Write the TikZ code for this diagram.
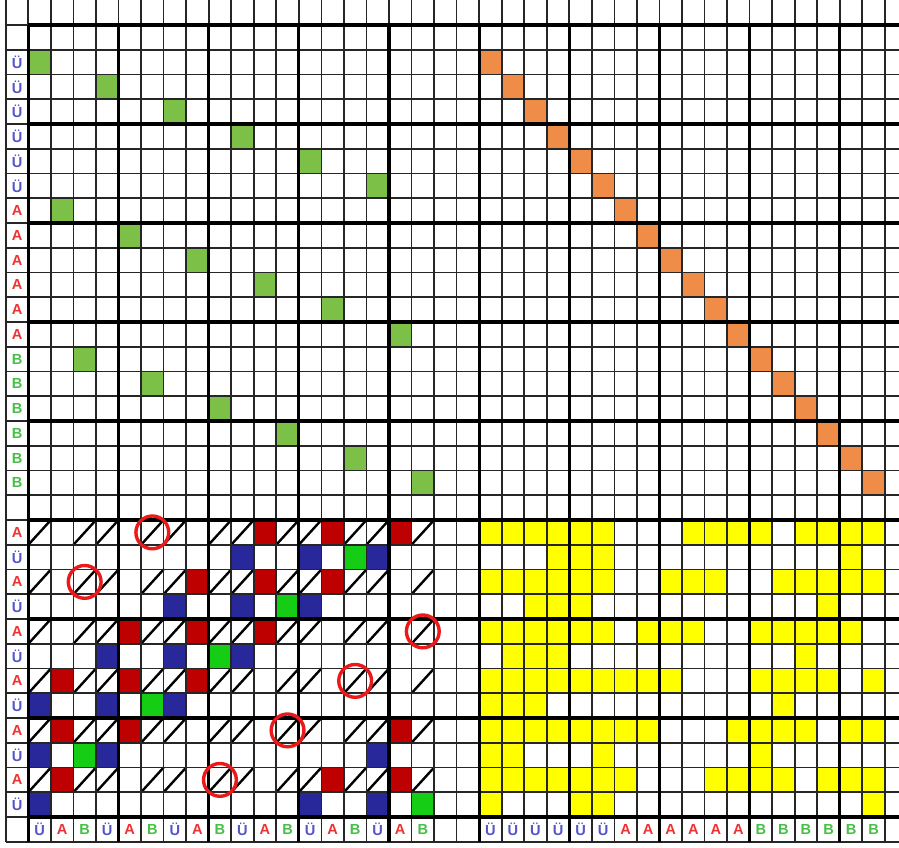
\documentclass[tikz,border=0pt]{standalone}
\usepackage{fontspec}
\newfontfamily\labfont{Liberation Sans}
\definecolor{lgreen}{RGB}{124,192,72}
\definecolor{orng}{RGB}{238,140,72}
\definecolor{dred}{RGB}{190,0,0}
\definecolor{dblue}{RGB}{40,40,155}
\definecolor{bgreen}{RGB}{20,205,20}
\definecolor{yel}{RGB}{255,255,0}
\definecolor{ringred}{RGB}{235,25,25}
\definecolor{cU}{RGB}{85,85,200}
\definecolor{cA}{RGB}{238,50,50}
\definecolor{cB}{RGB}{70,192,70}
\begin{document}
\begin{tikzpicture}[x=11.27pt,y=-12.375pt,
  lab/.style={font=\labfont\bfseries\fontsize{7.3}{8}\selectfont, inner sep=0pt},
  thinline/.style={line width=0.85pt, black!85},
  thickline/.style={line width=1.6pt, black},
  slash/.style={line width=1.2pt, black},
  ring/.style={line width=1.7pt, ringred}]
\useasboundingbox (-0.2573,-0.0101) rectangle (39.627,34.212);
\clip (-0.2573,-0.0101) rectangle (39.627,34.212);
% light green cells (upper left)
\foreach \c/\r in {1/2,4/3,7/4,10/5,13/6,16/7,2/8,5/9,8/10,11/11,14/12,17/13,3/14,6/15,9/16,12/17,15/18,18/19}
  \fill[lgreen] (\c,\r) rectangle ++(1,1);
% orange diagonal (upper right)
\foreach \i in {0,...,17}
  \fill[orng] ({21+\i},{2+\i}) rectangle ++(1,1);
% dark red cells
\foreach \r/\cs in {21/{11,14,17},23/{8,11,14},25/{5,8,11},27/{2,5,8},29/{2,5,17},31/{2,14,17}}
  {\foreach \c in \cs {\fill[dred] (\c,\r) rectangle ++(1,1);}}
% dark blue cells
\foreach \r/\cs in {22/{10,13,16},24/{7,10,13},26/{4,7,10},28/{1,4,7},30/{1,4,16},32/{1,13,16}}
  {\foreach \c in \cs {\fill[dblue] (\c,\r) rectangle ++(1,1);}}
% bright green cells
\foreach \c/\r in {15/22,12/24,9/26,6/28,3/30,18/32}
  \fill[bgreen] (\c,\r) rectangle ++(1,1);
% yellow cells (lower right)
\foreach \r/\cs in {
  21/{21,22,23,24,25,26,30,31,32,33,35,36,37,38},
  22/{24,25,26,37},
  23/{21,22,23,24,25,26,29,30,31,34,35,36,37,38},
  24/{23,24,25,36},
  25/{21,22,23,24,25,26,28,29,30,33,34,35,36,37},
  26/{22,23,24,35},
  27/{21,22,23,24,25,26,27,28,29,33,34,35,36,38},
  28/{21,22,23,34},
  29/{21,22,23,24,25,26,27,28,32,33,34,35,37,38},
  30/{21,22,26,33},
  31/{21,22,23,24,25,26,27,31,32,33,34,36,37,38},
  32/{21,25,26,38}}
  {\foreach \c in \cs {\fill[yel] (\c,\r) rectangle ++(1,1);}}
% slashes
\foreach \r in {21,23,...,31}
  {\foreach \c in {1,3,4,6,7,9,10,12,13,15,16,18}
    {\draw[slash] ({\c},{\r+1}) -- ({\c+1},{\r});}}
% thin grid
\foreach \k in {0,...,39}
  \draw[thinline] (\k,-0.2) -- (\k,34);
\foreach \r in {1,...,34}
  \draw[thinline] (0,\r) -- (39.8,\r);
% thick grid
\foreach \k in {1,5,...,37}
  \draw[thickline] (\k,1) -- (\k,34);
\foreach \r in {1,5,...,33}
  \draw[thickline] (1,\r) -- (39.8,\r);
% red rings
\foreach \c/\r in {6/21,3/23,18/25,15/27,12/29,9/31}
  \draw[ring] ({\c+0.5},{\r+0.5}) circle [radius=8.2pt];
% row labels
\foreach \r in {2,...,7}
  \node[lab,text=cU] (lu\r) at (0.5,{\r+0.5}) {Ü};
\foreach \r in {8,...,13}
  \node[lab,text=cA] (la\r) at (0.5,{\r+0.5}) {A};
\foreach \r in {14,...,19}
  \node[lab,text=cB] (lb\r) at (0.5,{\r+0.5}) {B};
\foreach \r in {21,23,...,31}
  \node[lab,text=cA] (ma\r) at (0.5,{\r+0.5}) {A};
\foreach \r in {22,24,...,32}
  \node[lab,text=cU] (mu\r) at (0.5,{\r+0.5}) {Ü};
% column labels
\foreach \c in {1,4,...,16}
  \node[lab,text=cU] (bu\c) at ({\c+0.5},33.5) {Ü};
\foreach \c in {2,5,...,17}
  \node[lab,text=cA] (ba\c) at ({\c+0.5},33.5) {A};
\foreach \c in {3,6,...,18}
  \node[lab,text=cB] (bb\c) at ({\c+0.5},33.5) {B};
\foreach \c in {21,...,26}
  \node[lab,text=cU] (ru\c) at ({\c+0.5},33.5) {Ü};
\foreach \c in {27,...,32}
  \node[lab,text=cA] (ra\c) at ({\c+0.5},33.5) {A};
\foreach \c in {33,...,38}
  \node[lab,text=cB] (rb\c) at ({\c+0.5},33.5) {B};
\end{tikzpicture}
\end{document}
